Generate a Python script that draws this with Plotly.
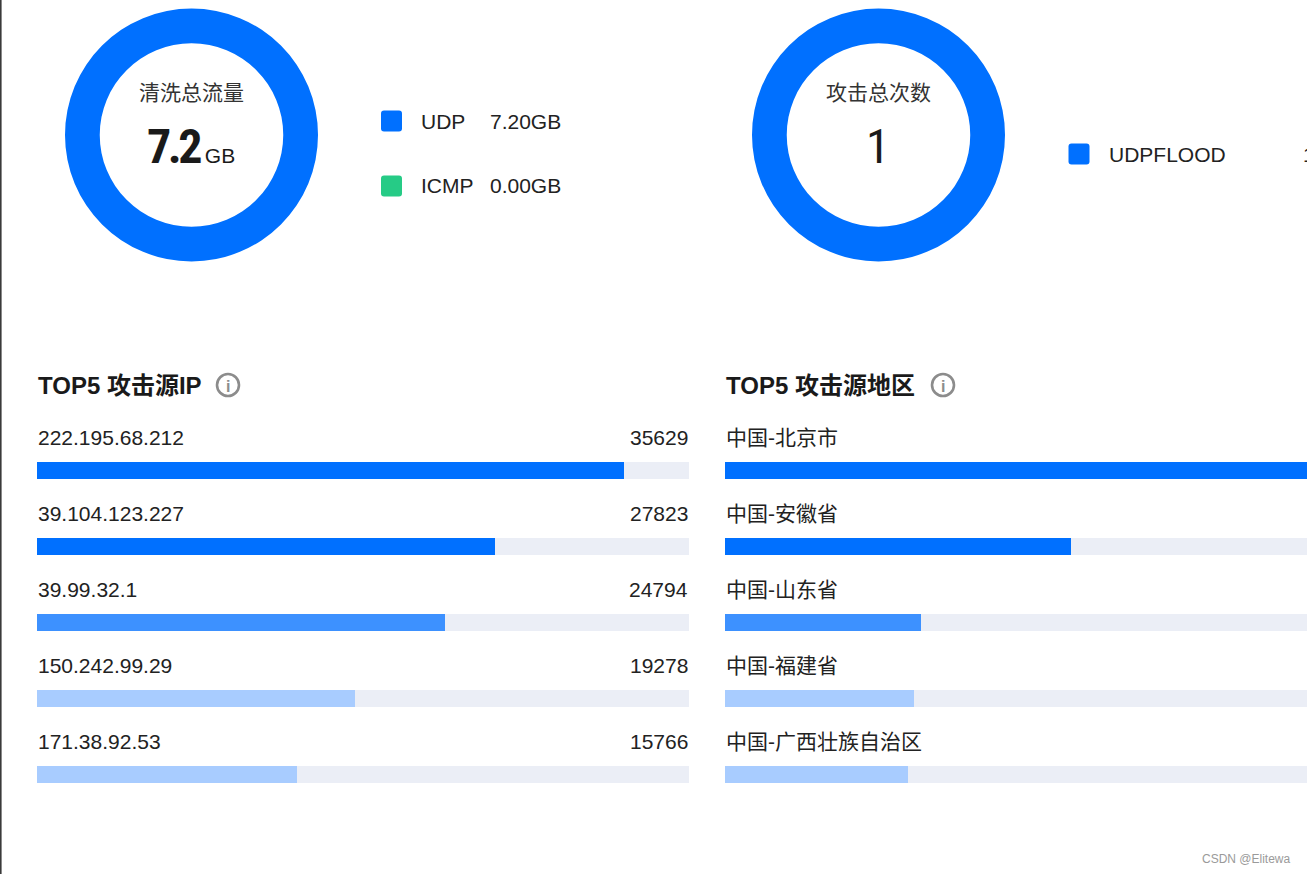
import plotly.graph_objects as go

W, H = 1307, 874

# ---------------- data ----------------
traffic_types = ["UDP", "ICMP"]
traffic_gb = [7.20, 0.00]
traffic_colors = ["#0070FF", "#26CB86"]
traffic_total_label = "7.2"

attack_types = ["UDPFLOOD"]
attack_counts = [1]
attack_colors = ["#0070FF"]

ip_labels = ["222.195.68.212", "39.104.123.227", "39.99.32.1", "150.242.99.29", "171.38.92.53"]
ip_values = [35629, 27823, 24794, 19278, 15766]

region_labels = ["中国-北京市", "中国-安徽省", "中国-山东省", "中国-福建省", "中国-广西壮族自治区"]
region_values = [100, 59.0, 33.4, 32.2, 31.2]  # relative

rank_colors = ["#0070FF", "#0070FF", "#3D91FF", "#A8CCFF", "#A8CCFF"]
track_color = "#EBEEF6"

LATIN = "Liberation Sans, Arial, Noto Sans CJK SC, sans-serif"
CJK = "Liberation Sans, Noto Sans CJK SC, sans-serif"
NUM = "Roboto Condensed, Roboto, Liberation Sans, sans-serif"


def X(px):
    return px / W


def Y(py):
    return 1 - py / H


fig = go.Figure()

# ---------------- donuts ----------------
fig.add_trace(go.Pie(
    labels=traffic_types, values=traffic_gb, hole=0.725, sort=False,
    marker=dict(colors=traffic_colors, line=dict(width=0)),
    textinfo="none", hoverinfo="skip", showlegend=False, direction="clockwise",
    domain=dict(x=[X(65), X(318)], y=[Y(262), Y(8)]),
))
fig.add_trace(go.Pie(
    labels=attack_types, values=attack_counts, hole=0.725, sort=False,
    marker=dict(colors=attack_colors, line=dict(width=0)),
    textinfo="none", hoverinfo="skip", showlegend=False,
    domain=dict(x=[X(752), X(1005)], y=[Y(262), Y(8)]),
))

annotations = []
shapes = []


def txt(x, y, s, size, color="#222", family=CJK, xanchor="center", yanchor="middle", **kw):
    annotations.append(dict(x=X(x), y=Y(y), xref="paper", yref="paper", text=s, showarrow=False,
                            font=dict(size=size, color=color, family=family),
                            xanchor=xanchor, yanchor=yanchor, borderpad=0, **kw))


txt(191, 92, "清洗总流量", 21, "#333")
txt(191, 146, "<b><span style='letter-spacing:-3.5px'>%s</span></b>"
              "<span style='font-size:21px;font-family:Liberation Sans'> GB</span>" % traffic_total_label,
    48, "#1a1a1a", NUM)
txt(878, 146, "%d" % sum(attack_counts), 48, "#1a1a1a", NUM)
txt(878, 92, "攻击总次数", 21, "#333")


def rounded_square(cx, cy, size, r, color):
    x0, x1 = cx - size / 2, cx + size / 2
    y0, y1 = cy - size / 2, cy + size / 2
    path = (f"M {X(x0 + r)},{Y(y0)} L {X(x1 - r)},{Y(y0)} Q {X(x1)},{Y(y0)} {X(x1)},{Y(y0 + r)} "
            f"L {X(x1)},{Y(y1 - r)} Q {X(x1)},{Y(y1)} {X(x1 - r)},{Y(y1)} "
            f"L {X(x0 + r)},{Y(y1)} Q {X(x0)},{Y(y1)} {X(x0)},{Y(y1 - r)} "
            f"L {X(x0)},{Y(y0 + r)} Q {X(x0)},{Y(y0)} {X(x0 + r)},{Y(y0)} Z")
    shapes.append(dict(type="path", path=path, xref="paper", yref="paper",
                       fillcolor=color, line=dict(width=0)))


legend_rows = [121, 186]
for name, val, col, yy in zip(traffic_types, traffic_gb, traffic_colors, legend_rows):
    rounded_square(391.5, yy, 21, 3, col)
    txt(420, yy, name, 21, "#222", LATIN, xanchor="left")
    txt(489, yy, "%.2fGB" % val, 21, "#222", LATIN, xanchor="left")

for name, val, col in zip(attack_types, attack_counts, attack_colors):
    rounded_square(1079, 154, 21, 3, col)
    txt(1108, 154, name, 21, "#222", LATIN, xanchor="left")
    txt(1302, 154, str(val), 21, "#222", LATIN, xanchor="left")

# ---------------- section titles ----------------
def title_with_icon(x, text, icon_x):
    txt(x, 385, "<b>%s</b>" % text, 24, "#1a1a1a", CJK, xanchor="left")
    shapes.append(dict(type="circle", xref="paper", yref="paper",
                       x0=X(icon_x - 11), x1=X(icon_x + 11), y0=Y(385 + 11), y1=Y(385 - 11),
                       line=dict(color="#8C8C8C", width=2.6), fillcolor="rgba(0,0,0,0)"))
    txt(icon_x, 386, "<b>i</b>", 16, "#8C8C8C", LATIN)


title_with_icon(37, "TOP5 攻击源IP", 228)
title_with_icon(725, "TOP5 攻击源地区", 943)

# ---------------- bar panels ----------------
row_pitch = 76.0
first_center = 470.5
dom_top, dom_bot = 420, 800
y_range = [(dom_bot - first_center) / row_pitch, (dom_top - first_center) / row_pitch]
bar_w = 17.5 / row_pitch
label_off = 33.5 / row_pitch

idx = list(range(5))
LBL = 21

# left: IP
R1 = max(ip_values) / 0.9
fig.add_trace(go.Bar(x=[R1] * 5, y=idx, orientation="h", width=bar_w, marker=dict(color=track_color, line=dict(width=0)),
                     hoverinfo="skip", showlegend=False, xaxis="x", yaxis="y"))
fig.add_trace(go.Bar(x=ip_values, y=idx, orientation="h", width=bar_w, marker=dict(color=rank_colors, line=dict(width=0)),
                     hoverinfo="skip", showlegend=False, xaxis="x", yaxis="y"))
for i, (lab, v) in enumerate(zip(ip_labels, ip_values)):
    annotations.append(dict(x=0, y=i - label_off, xref="x", yref="y", text=lab, showarrow=False, borderpad=0,
                            xanchor="left", yanchor="middle", font=dict(size=LBL, color="#222", family=LATIN)))
    annotations.append(dict(x=R1, y=i - label_off, xref="x", yref="y", text=str(v), showarrow=False, borderpad=0,
                            xanchor="right", yanchor="middle", font=dict(size=LBL, color="#222", family=LATIN)))

# right: region (panel continues beyond the visible window)
R2 = max(region_values) / 0.9
left2 = 725
track_px = 652
vis_px = W - left2
fig.add_trace(go.Bar(x=[R2] * 5, y=idx, orientation="h", width=bar_w, marker=dict(color=track_color, line=dict(width=0)),
                     hoverinfo="skip", showlegend=False, xaxis="x2", yaxis="y2"))
fig.add_trace(go.Bar(x=region_values, y=idx, orientation="h", width=bar_w, marker=dict(color=rank_colors, line=dict(width=0)),
                     hoverinfo="skip", showlegend=False, xaxis="x2", yaxis="y2"))
for i, lab in enumerate(region_labels):
    annotations.append(dict(x=0, y=i - label_off, xref="x2", yref="y2", text=lab, showarrow=False, borderpad=0,
                            xanchor="left", yanchor="middle", font=dict(size=LBL, color="#222", family=CJK)))

axis_off = dict(showgrid=False, zeroline=False, showticklabels=False, showline=False, ticks="", fixedrange=True)

# left border line & watermark
shapes.append(dict(type="line", xref="paper", yref="paper", x0=X(0.8), x1=X(0.8), y0=0, y1=1,
                   line=dict(color="#3A3A3A", width=1.6)))
txt(1292, 859, "CSDN @Elitewa", 12, "#9A9A9A", LATIN, xanchor="right")

fig.update_layout(
    width=W, height=H, margin=dict(l=0, r=0, t=0, b=0),
    paper_bgcolor="white", plot_bgcolor="rgba(0,0,0,0)",
    barmode="overlay", bargap=0,
    xaxis=dict(domain=[X(37), X(689)], range=[0, R1], **axis_off),
    yaxis=dict(domain=[Y(dom_bot), Y(dom_top)], range=y_range, **axis_off),
    xaxis2=dict(domain=[X(left2), 1], range=[0, R2 * vis_px / track_px], anchor="y2", **axis_off),
    yaxis2=dict(domain=[Y(dom_bot), Y(dom_top)], range=y_range, anchor="x2", **axis_off),
    annotations=annotations, shapes=shapes,
)

fig.write_html("out.html", config=dict(displayModeBar=False),
               post_script="document.body.style.margin='0';document.body.style.overflow='hidden';")
